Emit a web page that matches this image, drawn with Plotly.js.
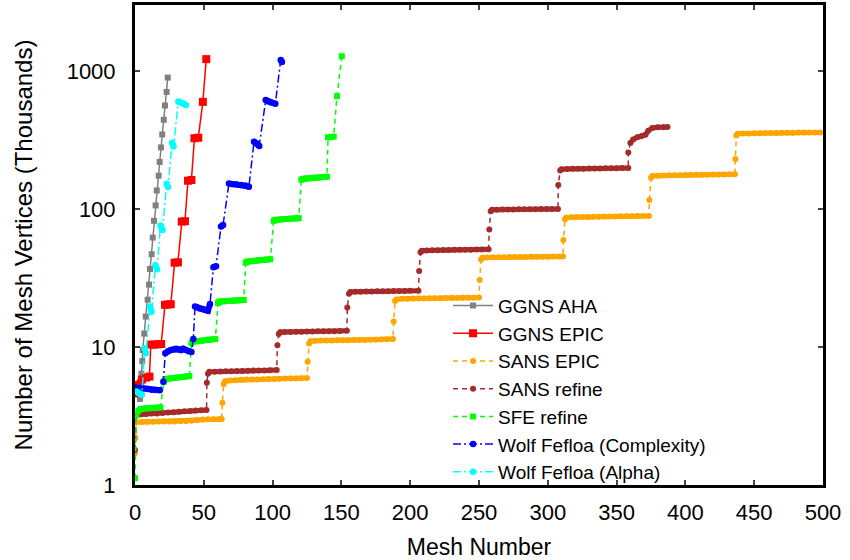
<!DOCTYPE html>
<html><head><meta charset="utf-8">
<script src="https://cdn.plot.ly/plotly-3.0.1.min.js"></script>
<style>html,body{margin:0;padding:0;background:#fff}#chart{width:850px;height:560px}</style>
</head><body><div id="chart"></div>
<script>
// ---- data (mesh number vs. vertices in thousands) ----
const ggnsAhaX = [3.6,4.4,4.7,5.3,5.6,6.7,7.8,9.2,10.2,10.9,12.1,12.9,13.8,15.0,15.8,17.2,17.9,18.9,19.8,20.9,21.8,23.0,23.8];
const ggnsAhaY = [4.2,5.2,6.4,7.9,9.5,12.5,16.6,22.0,28.3,36.7,47,62,82,106,136,174,219,279,346,442,561,704,894];

const ggnsEpicX = [0,2,5,8,10.5,11.5,14,17,19,21.8,24,26,28.8,31.2,34,36.3,38.5,41,43.2,46,49.3,51.8];
const ggnsEpicY = [4.6,5.3,5.8,6.0,6.1,10.4,10.4,10.45,10.5,20.2,20.3,20.4,40.8,41,80.9,81.5,160,162,325,328,596,1216];

const sansEpicX = [0,0.3,1,5,9,13,17,21,25,29,33,37,41,45,49,53,57,61,63,
  63.5,
  64.5,65.5,69,73,77,81,85,89,93,97,101,105,109,113,117,121,125,
  125.5,
  126.5,127.5,131,135,139,143,147,151,155,159,163,167,171,175,179,183,187.5,
  188,
  189,190,194,198,202,206,210,214,218,222,226,230,234,238,242,246,250,
  250.5,
  251.5,252.5,256,260,264,268,272,276,280,284,288,292,296,300,304,308,311,
  311.3,
  312.5,313.5,317,321,325,329,333,337,341,345,349,353,357,361,365,369,373.5,
  373.8,
  375,376,380,384,388,392,396,400,404,408,412,416,420,424,428,432,436,
  436.3,
  437,438,442,446,450,454,458,462,466,470,474,478,482,486,490,494,498];
const sansEpicY = [1.7,2.2,2.85,2.86,2.87,2.87,2.88,2.88,2.89,2.89,2.9,2.9,2.92,2.96,2.98,2.99,3.0,3.0,3.01,
  3.95,
  5.4,5.65,5.72,5.75,5.78,5.8,5.8,5.82,5.84,5.85,5.87,5.88,5.9,5.9,5.92,5.94,5.95,
  7.8,
  10.6,11.0,11.1,11.12,11.15,11.15,11.18,11.2,11.2,11.22,11.25,11.25,11.28,11.3,11.32,11.35,11.4,
  15.3,
  21.5,22.1,22.3,22.35,22.4,22.4,22.45,22.5,22.5,22.55,22.6,22.6,22.65,22.7,22.7,22.75,22.8,
  30.5,
  43,44.3,44.5,44.6,44.6,44.7,44.8,44.8,44.9,44.9,45,45,45.1,45.1,45.2,45.2,45.2,
  59.6,
  84,86.5,87,87.2,87.4,87.5,87.6,87.8,88,88,88.2,88.4,88.5,88.6,88.8,88.9,89,
  116,
  168,173,174,174.5,175,175.3,175.6,176,176.2,176.5,176.8,177,177.2,177.5,177.7,178,178,
  230,
  340,350,352,352.5,353,353.5,354,354.5,355,355.5,356,356.5,357,357,357.5,358,358];

const sansRefineX = [0,1,4,8,12,16,20,24,28,32,36,40,44,48,52,
  52.2,
  53,54,58,62,66,70,74,78,82,86,90,94,98,103,
  103.5,
  104.5,105.5,109,113,117,121,125,129,133,137,141,145,149,154,
  154.3,
  155.5,156.5,160,164,168,172,176,180,184,188,192,196,200,206,
  206.5,
  207.5,208.5,212,216,220,224,228,232,236,240,244,248,252,257,
  257.5,
  258.5,259.5,263,267,271,275,279,283,287,291,295,299,303,307.4,
  307.6,
  309,310,314,318,322,326,330,334,338,342,346,350,354,358.5,
  358.5,
  360,362,365,368,371,373,376,380,384,387];
const sansRefineY = [1.79,3.2,3.25,3.27,3.3,3.3,3.32,3.35,3.37,3.4,3.42,3.44,3.46,3.48,3.5,
  5.5,
  6.4,6.6,6.62,6.65,6.67,6.68,6.7,6.7,6.72,6.74,6.75,6.76,6.78,6.8,
  10.3,
  12.4,12.8,12.82,12.85,12.88,12.9,12.92,12.95,12.97,13,13,13.02,13.05,13.1,
  19.3,
  24.3,25,25.1,25.15,25.2,25.25,25.3,25.3,25.35,25.4,25.4,25.45,25.5,25.5,
  35.5,
  48.5,49.8,50,50.1,50.2,50.3,50.4,50.5,50.5,50.6,50.7,50.8,50.9,51,
  71,
  96,98.5,98.8,99,99.1,99.2,99.3,99.4,99.5,99.6,99.7,99.8,99.9,100,
  149,
  190,194,194.5,195,195.3,195.6,196,196.2,196.5,196.8,197,197.2,197.5,197.8,
  256,
  300,318,330,336,345,368,386,390,391,392];

const sfeRefineX = [0,1,2.5,4,7,10,13,16,18.5,
  21,22,25,28,31,34,37,39.5,
  41,42,45,48,51,54,58.4,
  60.3,61.3,64,67,70,73,76,79,
  80.5,81.5,84,87,90,93,96,98.3,
  100.8,101.8,104,107,110,113,116,119,
  120.9,121.9,124,127,130,133,136,139.5,
  140.3,142,144.4,146.8,150.3];
const sfeRefineY = [1.12,3.2,3.45,3.55,3.58,3.6,3.62,3.63,3.65,
  5.6,5.85,5.9,5.95,6.0,6.05,6.1,6.15,
  10.7,10.95,11.0,11.1,11.2,11.3,11.4,
  20.8,21.3,21.4,21.5,21.6,21.7,21.8,21.9,
  40.8,41.5,41.8,42.1,42.4,42.7,43,43.2,
  82,83.2,83.6,84,84.5,85,85.4,85.7,
  163,165,166,167,168,169,170,171,
  330,331,334,656,1277];

const wolfCxX = [0,3,6,9,12,15,18,
  20.6,
  22,24,26,28,30,32,33.5,35,37,39,41,
  42.4,
  43.6,45,47,49,51,53,
  54.5,
  57,58.9,
  62.5,64,
  68.3,71,74,77,80,82.8,
  86.5,88.5,90.3,
  95,97,99,102,
  105.9,106.8];
const wolfCxY = [5.1,5.05,5.0,4.95,4.9,4.88,4.85,
  5.6,
  9.0,9.3,9.5,9.6,9.7,9.6,9.5,9.7,9.5,9.3,9.2,
  11.4,
  19.6,19.4,19.0,18.8,18.5,18.3,
  20.5,
  37.8,38.5,
  74.5,76.6,
  153,151,150,149,148,145,
  307,298,286,
  616,600,590,577,
  1200,1160];

const wolfAlX = [1,2.5,4,5, 7,8, 11,12, 14.8,16, 18.5,20, 23,24, 27,28, 31.5,33,35,37];
const wolfAlY = [4.75,4.65,4.55,4.5, 9.8,9.0, 19.6,18.0, 39,36.5, 75.7,70.4, 152,144, 302,283, 600,590,580,565];

const seriesNames = ["GGNS AHA","GGNS EPIC","SANS EPIC","SANS refine","SFE refine","Wolf Fefloa (Complexity)","Wolf Fefloa (Alpha)"];
const xTickVals = [0,50,100,150,200,250,300,350,400,450,500];
const yTickVals = [1,10,100,1000];
const yTickText = ["1","10","100","1000"];

// ---- styles ----
const F = "Liberation Sans, Arial, Helvetica, sans-serif";
const DASH = "5px,4px";
const DASHDOT = "8px,3px,2px,3px";

// plateau body: consecutive points of nearly equal size are joined by a thick line
// (the reference's densely packed markers); big jumps are left to the dashed line.
function plateaus(x, y) {
  const bx = [], by = [];
  for (let i = 0; i < x.length; i++) {
    if (i > 0) {
      const r = y[i] / y[i - 1];
      if (r > 1.15 || r < 1 / 1.15) { bx.push(null); by.push(null); }
    }
    bx.push(x[i]); by.push(y[i]);
  }
  return {bx, by};
}
function body(x, y, color, width) {
  const p = plateaus(x, y);
  return {type:"scatter", mode:"lines", x:p.bx, y:p.by, connectgaps:false, showlegend:false,
    hoverinfo:"skip", line:{color:color, width:width}};
}
function tr(name, x, y, color, dash, symbol, msize, lw) {
  return {type:"scatter", mode:"lines+markers", name:name, x:x, y:y,
    line:{color:color, width:lw||1.5, dash:dash},
    marker:{color:color, symbol:symbol, size:msize, line:{width:0}}};
}
const data = [
  body(ggnsEpicX, ggnsEpicY, "#ff0000", 7),
  body(sansEpicX, sansEpicY, "#ffa500", 5),
  body(sansRefineX, sansRefineY, "#a52a2a", 5),
  body(sfeRefineX, sfeRefineY, "#00ff00", 6),
  body(wolfCxX, wolfCxY, "#0000ff", 6),
  body(wolfAlX, wolfAlY, "#00ffff", 6),
  tr(seriesNames[0], ggnsAhaX, ggnsAhaY, "#808080", "solid", "square", 6),
  tr(seriesNames[1], ggnsEpicX, ggnsEpicY, "#ff0000", "solid", "square", 8),
  tr(seriesNames[2], sansEpicX, sansEpicY, "#ffa500", DASH, "circle", 6),
  tr(seriesNames[3], sansRefineX, sansRefineY, "#a52a2a", DASH, "circle", 6),
  tr(seriesNames[4], sfeRefineX, sfeRefineY, "#00ff00", DASH, "square", 6),
  tr(seriesNames[5], wolfCxX, wolfCxY, "#0000ff", DASHDOT, "circle", 6.5),
  tr(seriesNames[6], wolfAlX, wolfAlY, "#00ffff", DASHDOT, "circle", 6.5)
];

const layout = {
  width:850, height:560,
  margin:{l:135, r:27, t:5, b:75},
  paper_bgcolor:"#fff", plot_bgcolor:"#fff",
  font:{family:F, color:"#000", size:22},
  showlegend:true,
  legend:{x:0.455, xanchor:"left", y:-0.012, yanchor:"bottom", bgcolor:"rgba(0,0,0,0)",
    font:{family:F, size:19, color:"#000"}, tracegroupgap:0, itemwidth:40},
  xaxis:{range:[0,500], tickvals:xTickVals, ticks:"inside", ticklen:5, tickwidth:2,
    showline:true, linewidth:3, linecolor:"#000", mirror:"ticks", showgrid:false, zeroline:false,
    tickfont:{family:F, size:22}, ticklabelstandoff:6,
    title:{text:"Mesh Number", font:{family:F, size:23}, standoff:22}},
  yaxis:{type:"log", range:[0, Math.log10(3000)], tickvals:yTickVals, ticktext:yTickText,
    ticks:"inside", ticklen:5, tickwidth:2,
    showline:true, linewidth:3, linecolor:"#000", mirror:"ticks", showgrid:false, zeroline:false,
    tickfont:{family:F, size:22}, ticklabelstandoff:12,
    title:{text:"Number of Mesh Vertices (Thousands)", font:{family:F, size:24}, standoff:28}}
};
Plotly.newPlot("chart", data, layout, {displayModeBar:false, staticPlot:true});
</script></body></html>
